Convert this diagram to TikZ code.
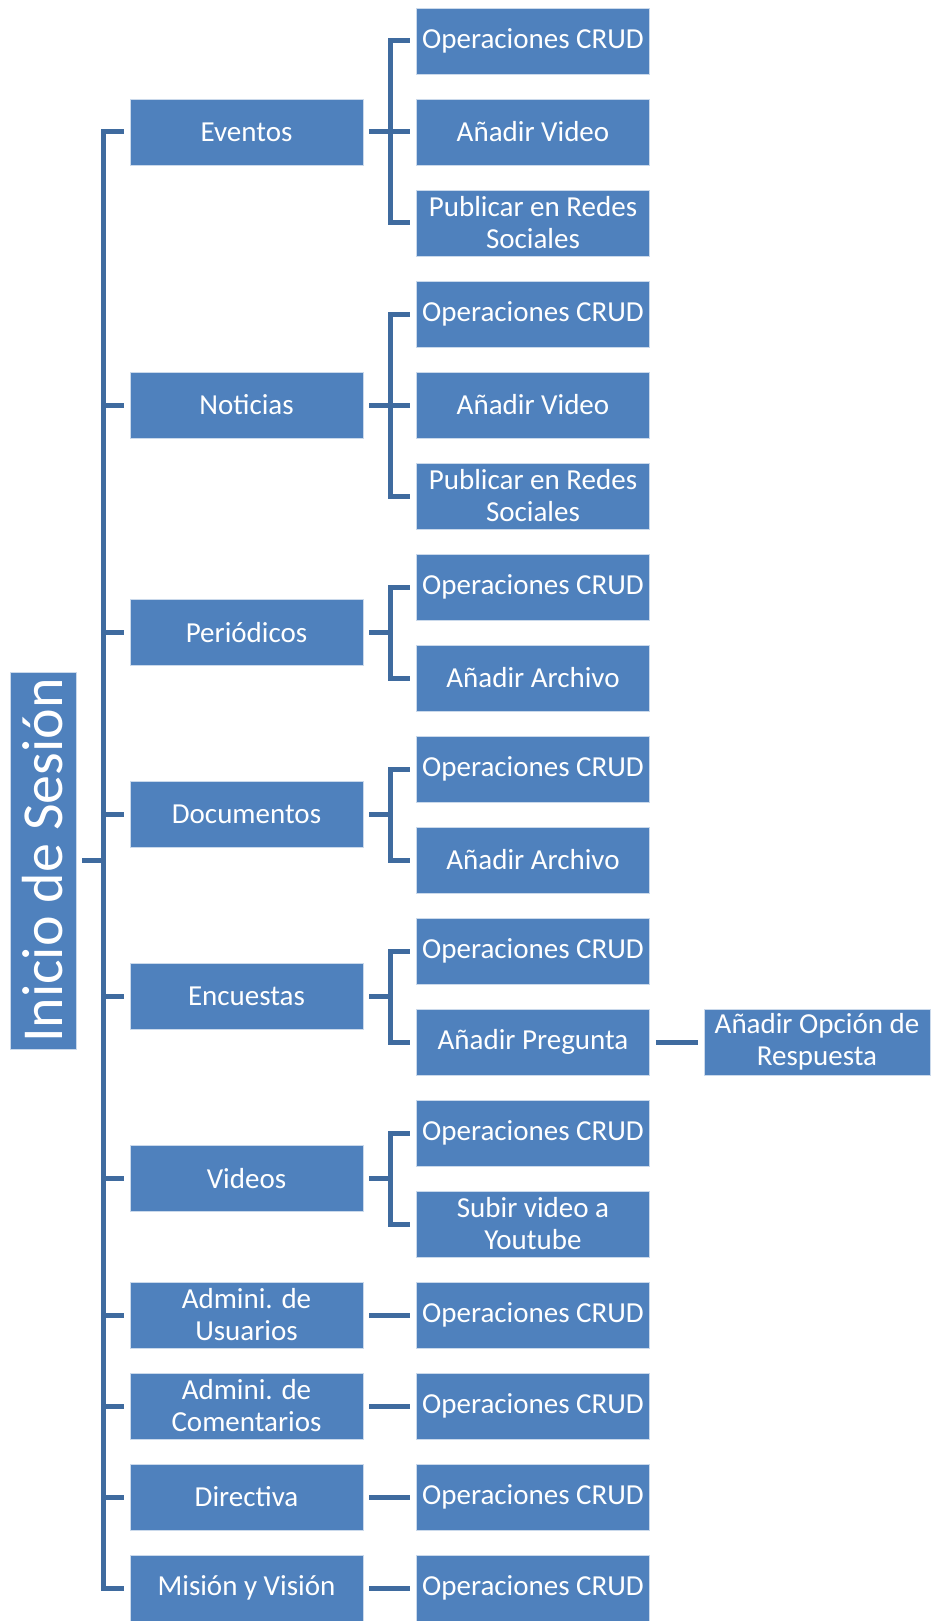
\documentclass[tikz,border=0pt]{standalone}
\usepackage{fontspec}
\setmainfont{Carlito}
\definecolor{boxblue}{HTML}{4F81BD}
\definecolor{lineblue}{HTML}{3F6B9F}
\begin{document}
\begin{tikzpicture}[x=1pt,y=-1pt,
  box/.style={fill=boxblue, draw=white!70!boxblue, line width=0.8pt, text=white,
    minimum width=233pt, minimum height=66pt, inner sep=0pt, align=center,
    font=\fontsize{29}{32}\selectfont},
  conn/.style={draw=lineblue, line width=5pt, line join=miter}]
\useasboundingbox (0,0) rectangle (930,1621);
% root
\node[box, rotate=90, minimum width=377pt, minimum height=66pt,
  font=\fontsize{58}{60}\selectfont] (root) at (43,860.5) {Inicio de Sesión};
% level 1
\node[box] (ev) at (246.5,132) {Eventos};
\node[box] (no) at (246.5,405) {Noticias};
\node[box] (pe) at (246.5,632.5) {Periódicos};
\node[box] (do) at (246.5,814.5) {Documentos};
\node[box] (en) at (246.5,996.5) {Encuestas};
\node[box] (vi) at (246.5,1178.5) {Videos};
\node[box] (au) at (246.5,1315) {Admini. de\\Usuarios};
\node[box] (ac) at (246.5,1406) {Admini. de\\Comentarios};
\node[box] (di) at (246.5,1497) {Directiva};
\node[box] (mv) at (246.5,1588) {Misión y Visión};
% level 2
\node[box] (ev1) at (533,41) {Operaciones CRUD};
\node[box] (ev2) at (533,132) {Añadir Video};
\node[box] (ev3) at (533,223) {Publicar en Redes\\Sociales};
\node[box] (no1) at (533,314) {Operaciones CRUD};
\node[box] (no2) at (533,405) {Añadir Video};
\node[box] (no3) at (533,496) {Publicar en Redes\\Sociales};
\node[box] (pe1) at (533,587) {Operaciones CRUD};
\node[box] (pe2) at (533,678) {Añadir Archivo};
\node[box] (do1) at (533,769) {Operaciones CRUD};
\node[box] (do2) at (533,860) {Añadir Archivo};
\node[box] (en1) at (533,951) {Operaciones CRUD};
\node[box] (en2) at (533,1042) {Añadir Pregunta};
\node[box] (vi1) at (533,1133) {Operaciones CRUD};
\node[box] (vi2) at (533,1224) {Subir video a\\Youtube};
\node[box] (au1) at (533,1315) {Operaciones CRUD};
\node[box] (ac1) at (533,1406) {Operaciones CRUD};
\node[box] (di1) at (533,1497) {Operaciones CRUD};
\node[box] (mv1) at (533,1588) {Operaciones CRUD};
% level 3
\node[box, minimum width=226pt] (op) at (817,1042) {Añadir Opción de\\Respuesta};
% connectors root -> level 1
\foreach \c in {ev,no,pe,do,en,vi,au,ac,di,mv}
  \draw[conn] ([xshift=6pt]root.south) -| ([xshift=-26pt]\c.west) -- ([xshift=-6pt]\c.west);
% connectors level 1 -> level 2
\foreach \p/\c in {ev/ev1,ev/ev2,ev/ev3,no/no1,no/no2,no/no3,pe/pe1,pe/pe2,do/do1,do/do2,
  en/en1,en/en2,vi/vi1,vi/vi2,au/au1,ac/ac1,di/di1,mv/mv1}
  \draw[conn] ([xshift=6pt]\p.east) -| ([xshift=-26pt]\c.west) -- ([xshift=-6pt]\c.west);
% level 2 -> level 3
\draw[conn] ([xshift=6pt]en2.east) -- ([xshift=-6pt]op.west);
\end{tikzpicture}
\end{document}
